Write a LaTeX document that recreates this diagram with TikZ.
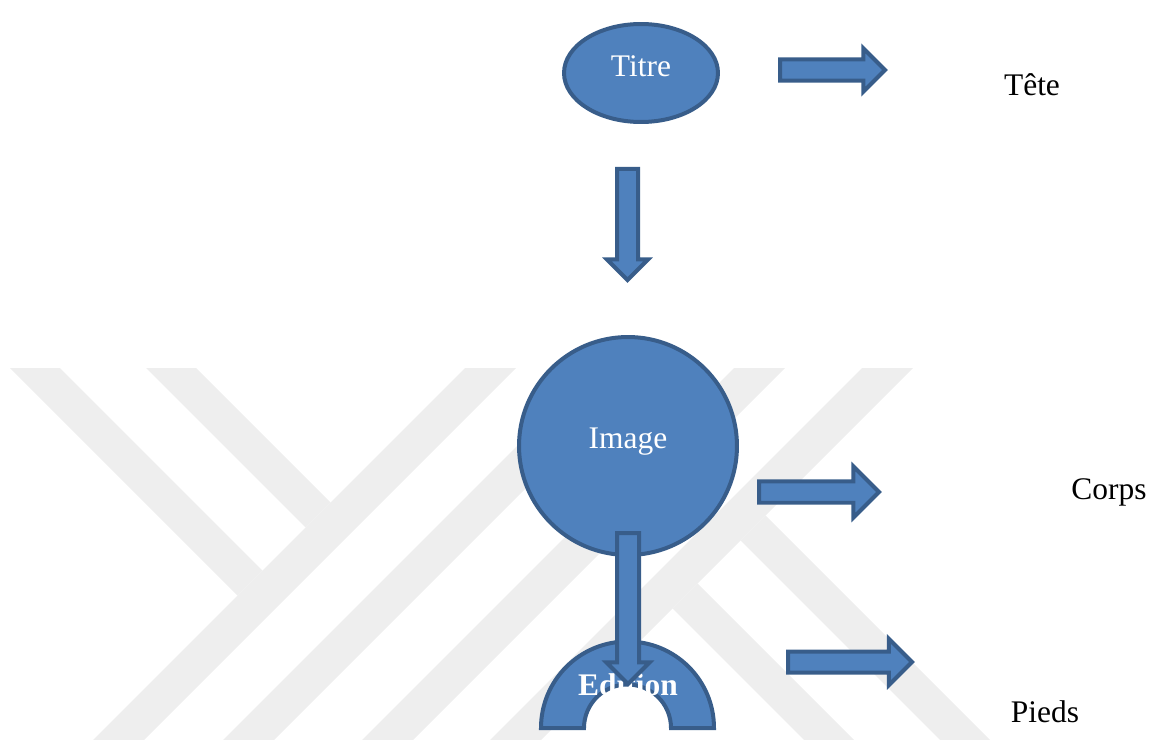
\documentclass[tikz,border=0pt]{standalone}
\usepackage{fontspec}
\setmainfont{Liberation Serif}
\usepackage{xcolor}
\usepackage{tikz}
\usetikzlibrary{shapes.geometric, shapes.arrows, positioning}
\definecolor{shapefill}{HTML}{4F81BD}
\definecolor{shapeline}{HTML}{385D8A}
\definecolor{markgray}{HTML}{EEEEEE}
\tikzset{
  bluebox/.style={
    draw=shapeline, fill=shapefill, line width=0.08cm, text=white,
    font=\fontsize{17.9pt}{21pt}\selectfont, inner sep=0pt
  },
  blockarrow/.style={
    single arrow, draw=shapeline, fill=shapefill, line width=0.08cm,
    inner xsep=0pt, outer sep=0pt, anchor=tail
  },
  partlabel/.style={
    font=\fontsize{17.9pt}{21pt}\selectfont, inner sep=0pt, anchor=base
  },
  markband/.style={fill=markgray, draw=none},
}

\begin{document}
\begin{tikzpicture}[x=0.02cm, y=-0.02cm]
  \useasboundingbox (0,0) rectangle (1154,740);

  % ── Watermark ──
  \foreach \v in {833, 963, 1102, 1230}
    \fill[markband] ({\v-368},368) -- ({\v+51-368},368)
      -- ({\v+51-740},740) -- ({\v-740},740) -- cycle;
  \fill[markband] (10,368) -- (60,368) -- (262.5,570.5) -- (237.5,595.5) -- cycle;
  \fill[markband] (146,368) -- (196,368) -- (330.5,502.5) -- (305.5,527.5) -- cycle;
  \fill[markband] (765.5,515.5) -- (990,740) -- (940,740) -- (740.5,540.5) -- cycle;
  \fill[markband] (697.5,583.5) -- (854,740) -- (804,740) -- (672.5,608.5) -- cycle;

  % ── Tête ──
  \node[bluebox, ellipse, minimum width=3.08cm, minimum height=1.96cm,
    text height=0.42cm, text depth=0.26cm] (titre) at (641,73) {Titre};
  \node[blockarrow, minimum height=2.1cm, inner ysep=0.174cm,
    single arrow head extend=0.22cm] (tetearrow) at (780,70) {};
  \node[partlabel] (tete) at (1032,96) {Tête};

  \node[blockarrow, rotate=-90, minimum height=2.22cm, inner ysep=0.17cm,
    single arrow head extend=0.2cm] (downarrow) at (627.5,169) {};

  % ── Corps ──
  \node[bluebox, circle, minimum size=4.36cm,
    text height=0.42cm, text depth=0.34cm] (image) at (628,446) {Image};
  \node[blockarrow, minimum height=2.4cm, inner ysep=0.175cm,
    single arrow head extend=0.295cm] (corpsarrow) at (759,492) {};
  \node[partlabel] (corps) at (1109,499) {Corps};

  % ── Pieds ──
  \draw[draw=shapeline, fill=shapefill, line width=0.08cm]
    (541,728) arc[start angle=180, end angle=360, radius=86.5]
    -- (671,728) arc[start angle=360, end angle=180, radius=43.5] -- cycle;
  \node[partlabel, text=white, font=\fontsize{17.9pt}{21pt}\selectfont\bfseries]
    (edition) at (628,695) {Edition};
  \node[blockarrow, rotate=-90, minimum height=3.02cm, inner ysep=0.18cm,
    single arrow head extend=0.21cm] (editionarrow) at (628,533) {};
  \node[blockarrow, minimum height=2.48cm, inner ysep=0.17cm,
    single arrow head extend=0.25cm] (piedsarrow) at (788,662) {};
  \node[partlabel] (pieds) at (1045,722) {Pieds};
\end{tikzpicture}
\end{document}
